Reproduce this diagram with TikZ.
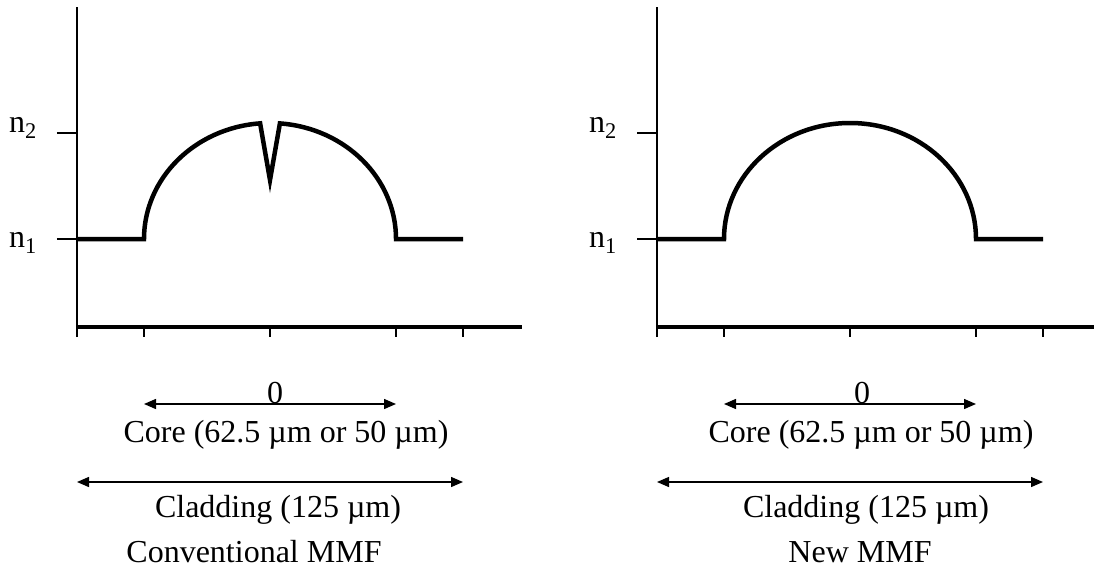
\documentclass[tikz,border=0pt]{standalone}
\usepackage{fontspec}
\setmainfont{Liberation Serif}
\usetikzlibrary{arrows.meta}

\tikzset{
  thinline/.style={line width=1.6pt},
  baseaxis/.style={line width=4pt},
  profile/.style={line width=4.5pt, line join=miter},
  dimarrow/.style={line width=1.4pt, {Triangle[length=12pt,width=10pt]}-{Triangle[length=12pt,width=10pt]}},
  lbl/.style={font=\fontsize{32}{38}\selectfont, inner sep=0pt},
  idx/.style={font=\fontsize{32}{38}\selectfont, inner sep=0pt, anchor=base east},
}

\begin{document}
\begin{tikzpicture}[x=1pt,y=1pt]
  \def\rx{126}
  \def\ry{116}
  \useasboundingbox (-77,-244) rectangle (1017,327);

  % Conventional MMF
  \begin{scope}[name prefix=c-]
    \draw[thinline] (0,-10) -- (0,320);
    \draw[baseaxis] (0,0) -- (445,0);
    \foreach \tx in {0,67,193,319,386}
      \draw[thinline] (\tx,0) -- (\tx,-10);
    \draw[thinline] (-20,194) -- (0,194);
    \draw[thinline] (-20,88) -- (0,88);
    \node[idx] (n2) at (-40,195) {n\textsubscript{2}};
    \node[idx] (n1) at (-40,80) {n\textsubscript{1}};

    % index profile with central dip
    \draw[profile] (0,88) -- (67,88)
      arc[start angle=180, end angle=94.5, x radius=\rx, y radius=\ry]
      -- (193,147) -- (202.9,203.6)
      arc[start angle=85.5, end angle=0, x radius=\rx, y radius=\ry]
      -- (386,88);

    \coordinate (corel) at (67,-77);
    \coordinate (corer) at (319,-77);
    \coordinate (cladl) at (0,-155);
    \coordinate (cladr) at (386,-155);
    \draw[dimarrow] (corel) -- (corer);
    \draw[dimarrow] (cladl) -- (cladr);

    \node[lbl] (zero) at (198,-66) {0};
    \node[lbl] (core) at (209,-108) {Core (62.5 µm or 50 µm)};
    \node[lbl] (clad) at (201,-183) {Cladding (125 µm)};
    \node[lbl] (name) at (177,-225) {Conventional MMF};
  \end{scope}

  % New MMF
  \begin{scope}[xshift=580pt, name prefix=n-]
    \draw[thinline] (0,-10) -- (0,320);
    \draw[baseaxis] (0,0) -- (445,0);
    \foreach \tx in {0,67,193,319,386}
      \draw[thinline] (\tx,0) -- (\tx,-10);
    \draw[thinline] (-20,194) -- (0,194);
    \draw[thinline] (-20,88) -- (0,88);
    \node[idx] (n2) at (-40,195) {n\textsubscript{2}};
    \node[idx] (n1) at (-40,80) {n\textsubscript{1}};

    % smooth index profile
    \draw[profile] (0,88) -- (67,88)
      arc[start angle=180, end angle=0, x radius=\rx, y radius=\ry]
      -- (386,88);

    \coordinate (corel) at (67,-77);
    \coordinate (corer) at (319,-77);
    \coordinate (cladl) at (0,-155);
    \coordinate (cladr) at (386,-155);
    \draw[dimarrow] (corel) -- (corer);
    \draw[dimarrow] (cladl) -- (cladr);

    \node[lbl] (zero) at (205,-66) {0};
    \node[lbl] (core) at (214,-108) {Core (62.5 µm or 50 µm)};
    \node[lbl] (clad) at (209,-183) {Cladding (125 µm)};
    \node[lbl] (name) at (203,-225) {New MMF};
  \end{scope}
\end{tikzpicture}
\end{document}
